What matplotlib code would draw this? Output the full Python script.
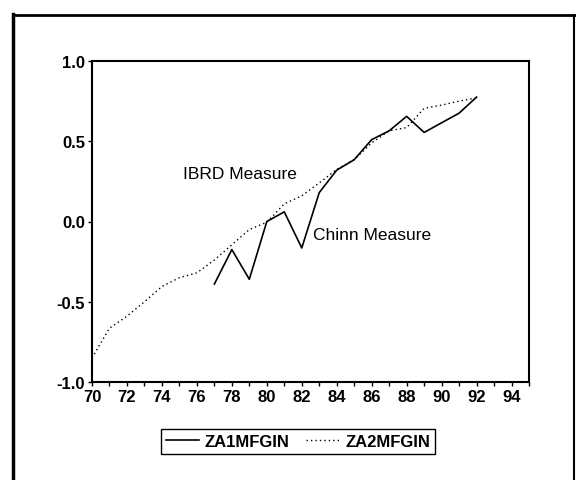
import numpy as np
import matplotlib.pyplot as plt
from matplotlib.lines import Line2D

plt.rcParams['font.family'] = ['Liberation Sans', 'DejaVu Sans']

# Chinn measure (solid) 1977-1992
years_za1 = [77, 78, 79, 80, 81, 82, 83, 84, 85, 86, 87, 88, 89, 90, 91, 92]
za1mfgin = [-0.39, -0.175, -0.36, 0.0, 0.06, -0.165, 0.18, 0.32, 0.385, 0.51, 0.565, 0.655, 0.555, 0.615, 0.675, 0.775]

# IBRD measure (dotted) 1970-1992
years_za2 = [70, 71, 72, 73, 74, 75, 76, 77, 78, 79, 80, 81, 82, 83, 84, 85, 86, 87, 88, 89, 90, 91, 92]
za2mfgin = [-0.85, -0.665, -0.59, -0.5, -0.405, -0.35, -0.32, -0.24, -0.145, -0.05, -0.005, 0.11, 0.16, 0.24, 0.325, 0.385, 0.49, 0.565, 0.585, 0.705, 0.725, 0.75, 0.77]

x_major = [70, 72, 74, 76, 78, 80, 82, 84, 86, 88, 90, 92, 94]
y_major = [-1.0, -0.5, 0.0, 0.5, 1.0]

fig = plt.figure(figsize=(5.76, 4.81), dpi=100)
ax = fig.add_axes([92/576, 1-383/481, 437/576, 321/481])

l1, = ax.plot(years_za1, za1mfgin, color='black', lw=1.2, label='ZA1MFGIN')
l2, = ax.plot(years_za2, za2mfgin, color='black', lw=1.0, linestyle=(0, (1, 2.2)), label='ZA2MFGIN')

ax.set_xlim(70, 95)
ax.set_ylim(-1.0, 1.0)
ax.set_xticks(x_major)
ax.set_xticks(np.arange(71, 96, 2), minor=True)
ax.set_yticks(y_major)
ax.set_yticklabels([f"{v:.1f}" for v in y_major])
ax.tick_params(axis='both', which='both', direction='out', length=3, width=1.0, labelsize=12, pad=2)
for lab in ax.get_xticklabels() + ax.get_yticklabels():
    lab.set_fontweight('bold')
for s in ax.spines.values():
    s.set_linewidth(1.5)

ax.text(75.2, 0.30, 'IBRD Measure', fontsize=12.5, va='center', ha='left')
ax.text(82.65, -0.08, 'Chinn Measure', fontsize=12.5, va='center', ha='left')

leg = fig.legend(handles=[l1, l2], loc='center', bbox_to_anchor=(298/576, 1-442.5/481), ncol=2,
                 frameon=True, fancybox=False, edgecolor='black', framealpha=1,
                 handlelength=2.0, handletextpad=0.35, columnspacing=1.0, borderpad=0.3,
                 prop={'weight': 'bold', 'size': 12})
leg.get_frame().set_linewidth(1.0)

# outer frame (cropped at bottom)
fig.add_artist(Line2D([13/576, 13/576], [0, 1-15/481], color='black', lw=2.5))
fig.add_artist(Line2D([13/576, 1.0], [1-16/481, 1-16/481], color='black', lw=2.0))
fig.add_artist(Line2D([574/576, 574/576], [0, 1-16/481], color='black', lw=1.5))

plt.savefig('out.png', dpi=100)
